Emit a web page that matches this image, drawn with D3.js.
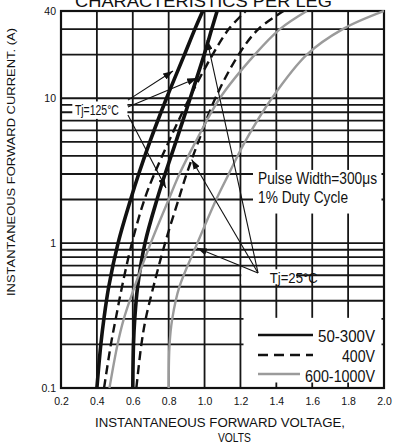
<!DOCTYPE html>
<html><head><meta charset="utf-8">
<script src="https://cdn.jsdelivr.net/npm/d3@7"></script>
<style>body{margin:0;background:#fff}svg{display:block}</style>
</head><body>
<svg id="chart" width="400" height="444"></svg>
<script>
// ---- data ----
const currents = [0.1, 0.2, 0.3, 0.5, 1, 2, 3, 5, 10, 20, 30, 40];
// forward voltage (V) at each current
const v50_300_125 = [0.40, 0.422, 0.439, 0.466, 0.518, 0.588, 0.633, 0.695, 0.788, 0.888, 0.946, 0.99];
const v50_300_25  = [0.60, 0.604, 0.611, 0.627, 0.668, 0.735, 0.78, 0.84, 0.92, 0.998, 1.04, 1.07];
const v400_125    = [0.44, 0.478, 0.505, 0.54, 0.595, 0.665, 0.72, 0.80, 0.915, 1.045, 1.135, 1.23];
const v400_25     = [0.62, 0.648, 0.672, 0.715, 0.78, 0.855, 0.90, 0.965, 1.06, 1.19, 1.30, 1.44];
const v600_125    = [0.47, 0.515, 0.55, 0.61, 0.70, 0.80, 0.86, 0.95, 1.085, 1.28, 1.42, 1.57];
const v600_25     = [0.80, 0.805, 0.82, 0.86, 0.96, 1.065, 1.135, 1.225, 1.375, 1.57, 1.77, 2.00];
const seriesNames = ["50-300V", "400V", "600-1000V"];
const xTicks = [0.2, 0.4, 0.6, 0.8, 1.0, 1.2, 1.4, 1.6, 1.8, 2.0];
const yTickLabels = [0.1, 1, 10, 40];
const yGrid = [0.1,0.2,0.3,0.4,0.5,0.6,0.7,0.8,0.9,1,2,3,4,5,6,7,8,9,10,20,30,40];
// annotation arrows: [fromV, fromI, toV, toI]
const arrows125 = [[0.573, 9.7, 0.824, 15.4], [0.573, 8.7, 0.958, 13.8], [0.573, 7.66, 0.785, 2.40]];
const arrows25  = [[1.298, 0.622, 0.928, 3.78], [1.298, 0.622, 1.014, 25.2], [1.298, 0.622, 0.958, 0.925]];

// ---- setup ----
const FONT = "'Liberation Sans', Arial, Helvetica, sans-serif";
const svg = d3.select("#chart");
svg.append("rect").attr("width", 400).attr("height", 444).attr("fill", "#fff");
const x = d3.scaleLinear().domain([0.2, 2.0]).range([61, 384]);
const y = d3.scaleLog().domain([0.1, 40]).range([388, 11]);

const styles = {
  solid: {stroke: "#111", width: 3.6, dash: null},
  dash:  {stroke: "#111", width: 2.4, dash: "9,5"},
  gray:  {stroke: "#9b9b9b", width: 2.4, dash: null}
};

// grid
const grid = svg.append("g").attr("stroke", "#161616").attr("stroke-width", 1.8);
grid.selectAll("line.v").data(xTicks.slice(1, -1)).join("line")
  .attr("x1", d => x(d)).attr("x2", d => x(d)).attr("y1", y(0.1)).attr("y2", y(40));
grid.selectAll("line.h").data(yGrid.slice(1, -1)).join("line")
  .attr("x1", x(0.2)).attr("x2", x(2.0)).attr("y1", d => y(d)).attr("y2", d => y(d));

// white boxes over grid
function box(x0, y0, x1, y1) {
  svg.append("rect").attr("x", x0).attr("y", y0).attr("width", x1 - x0).attr("height", y1 - y0).attr("fill", "#fff");
}
box(x(1.27), y(3.2), x(2.0) - 2.5, y(1.6));           // pulse width note
box(x(1.217), y(0.305), x(2.0) - 2.5, y(0.1) - 5.5);   // legend
box(x(1.205), y(0.66), x(1.51), y(0.52));             // Tj=25
box(x(0.263), y(9.5), x(0.57), y(7.2));               // Tj=125

// frame
svg.append("rect").attr("x", x(0.2)).attr("y", y(40)).attr("width", x(2.0) - x(0.2)).attr("height", y(0.1) - y(40))
  .attr("fill", "none").attr("stroke", "#111").attr("stroke-width", 2.2);

// curves
const line = d3.line().x(d => x(d[0])).y(d => y(d[1])).curve(d3.curveCatmullRom.alpha(0.5));
const curves = [
  [v50_300_125, "solid"], [v50_300_25, "solid"],
  [v400_125, "dash"], [v400_25, "dash"],
  [v600_125, "gray"], [v600_25, "gray"]
];
svg.append("clipPath").attr("id", "plot").append("rect")
  .attr("x", x(0.2)).attr("y", y(40) - 1).attr("width", x(2.0) - x(0.2)).attr("height", y(0.1) - y(40) + 1);
const cg = svg.append("g").attr("clip-path", "url(#plot)");
curves.forEach(([vals, s]) => {
  const st = styles[s];
  cg.append("path").datum(vals.map((v, i) => [v, currents[i]]))
    .attr("d", line).attr("fill", "none").attr("stroke", st.stroke)
    .attr("stroke-width", st.width).attr("stroke-dasharray", st.dash);
});

// arrows
svg.append("defs").append("marker").attr("id", "ah").attr("viewBox", "0 0 10 7")
  .attr("refX", 10).attr("refY", 3.5).attr("markerWidth", 10).attr("markerHeight", 7)
  .attr("markerUnits", "userSpaceOnUse").attr("orient", "auto")
  .append("path").attr("d", "M0,0L10,3.5L0,7Z").attr("fill", "#111");
svg.append("g").selectAll("line").data(arrows125.concat(arrows25)).join("line")
  .attr("x1", d => x(d[0])).attr("y1", d => y(d[1])).attr("x2", d => x(d[2])).attr("y2", d => y(d[3]))
  .attr("stroke", "#111").attr("stroke-width", 1.1).attr("marker-end", "url(#ah)");

// text helper
function txt(str, px, py, size, anchor, len) {
  const t = svg.append("text").attr("x", px).attr("y", py).attr("font-family", FONT)
    .attr("font-size", size).attr("fill", "#111").attr("text-anchor", anchor || "start").text(str);
  if (len) t.attr("textLength", len).attr("lengthAdjust", "spacingAndGlyphs");
  return t;
}
txt("Tj=125°C", x(0.40), y(7.7), 14, "middle", 44);
txt("Tj=25°C", x(1.497), y(0.53), 15, "middle", 48);
txt("Pulse Width=300\u03BCs", x(1.298), y(2.54), 16, "start", 119);
txt("1% Duty Cycle", x(1.298), y(1.906), 16, "start", 90);

// legend
const legend = [
  {name: seriesNames[0], s: "solid", x1: 313, ty: 341.7, ly: 335, len: 57},
  {name: seriesNames[1], s: "dash",  x1: 313, ty: 361.7, ly: 355, len: 33},
  {name: seriesNames[2], s: "gray",  x1: 300, ty: 381.7, ly: 374, len: 70}
];
legend.forEach(l => {
  const st = styles[l.s];
  svg.append("line").attr("x1", 258).attr("x2", l.x1).attr("y1", l.ly).attr("y2", l.ly)
    .attr("stroke", st.stroke).attr("stroke-width", l.s === "solid" ? 2.6 : 2.4)
    .attr("stroke-dasharray", l.s === "dash" ? "10,6" : null);
  txt(l.name, 375, l.ty, 16, "end", l.len);
});

// axes
const xa = svg.append("g").attr("transform", `translate(0,${y(0.1)})`)
  .call(d3.axisBottom(x).tickValues(xTicks).tickFormat(d3.format(".1f")).tickSize(0).tickPadding(10));
const ya = svg.append("g").attr("transform", `translate(${x(0.2)},0)`)
  .call(d3.axisLeft(y).tickValues(yTickLabels).tickFormat(d3.format("~g")).tickSize(0).tickPadding(5));
[xa, ya].forEach(a => {
  a.select(".domain").remove();
  a.selectAll("text").attr("font-family", FONT).attr("font-size", 10.5).attr("fill", "#111");
});

// titles
txt("INSTANTANEOUS FORWARD VOLTAGE,", 220, 426.5, 12, "middle", 250);
txt("VOLTS", 218, 441.5, 12, "start", 33);
svg.append("text").attr("transform", "translate(15,162) rotate(-90)").attr("text-anchor", "middle")
  .attr("font-family", FONT).attr("font-size", 11.6).attr("fill", "#111")
  .attr("textLength", 268).attr("lengthAdjust", "spacingAndGlyphs")
  .text("INSTANTANEOUS FORWARD CURRENT. (A)");
txt("CHARACTERISTICS PER LEG", 203.5, 6.5, 17, "middle", 257);
</script>
</body></html>
